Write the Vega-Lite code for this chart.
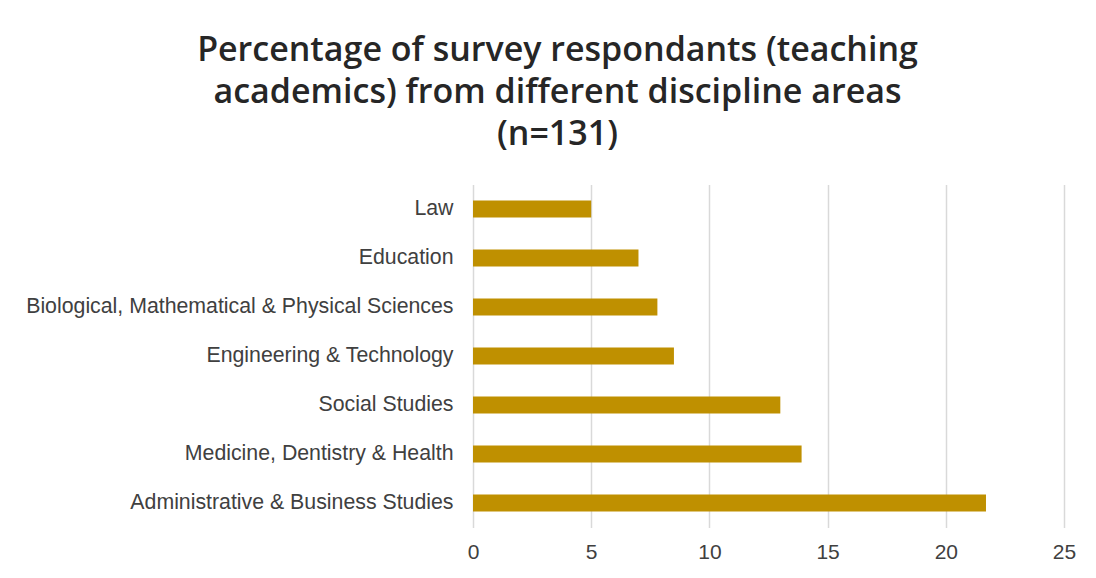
{
  "$schema": "https://vega.github.io/schema/vega-lite/v6.json",
  "autosize": "none",
  "width": 591,
  "height": 343,
  "padding": {"left": 473, "top": 184.5, "right": 32, "bottom": 50.5},
  "background": "white",
  "title": {
    "text": ["Percentage of survey respondants (teaching", "academics) from different discipline areas", "(n=131)"],
    "anchor": "middle",
    "frame": "group",
    "dx": -211,
    "offset": 33,
    "font": "Open Sans",
    "fontSize": 34,
    "fontWeight": 600,
    "lineHeight": 42,
    "color": "#262626"
  },
  "data": {
    "values": [
      {"area": "Law", "pct": 5.0},
      {"area": "Education", "pct": 7.0},
      {"area": "Biological, Mathematical & Physical Sciences", "pct": 7.8},
      {"area": "Engineering & Technology", "pct": 8.5},
      {"area": "Social Studies", "pct": 13.0},
      {"area": "Medicine, Dentistry & Health", "pct": 13.9},
      {"area": "Administrative & Business Studies", "pct": 21.7}
    ]
  },
  "mark": {"type": "bar", "color": "#BF9000"},
  "encoding": {
    "y": {
      "field": "area",
      "type": "nominal",
      "sort": {"field": "pct", "order": "ascending"},
      "scale": {"paddingInner": 0.65, "paddingOuter": 0.325},
      "axis": {
        "title": null,
        "domain": false,
        "ticks": false,
        "labelFont": "Liberation Sans",
        "labelFontSize": 21.3,
        "labelColor": "#404040",
        "labelPadding": 20,
        "labelLimit": 500
      }
    },
    "x": {
      "field": "pct",
      "type": "quantitative",
      "scale": {"domain": [0, 25]},
      "axis": {
        "title": null,
        "values": [0, 5, 10, 15, 20, 25],
        "domain": false,
        "ticks": false,
        "grid": true,
        "gridColor": "#D9D9D9",
        "gridWidth": 1.5,
        "labelFont": "Liberation Sans",
        "labelFontSize": 21,
        "labelColor": "#404040",
        "labelFlush": false,
        "labelPadding": 14
      }
    }
  },
  "config": {"view": {"stroke": null}}
}
